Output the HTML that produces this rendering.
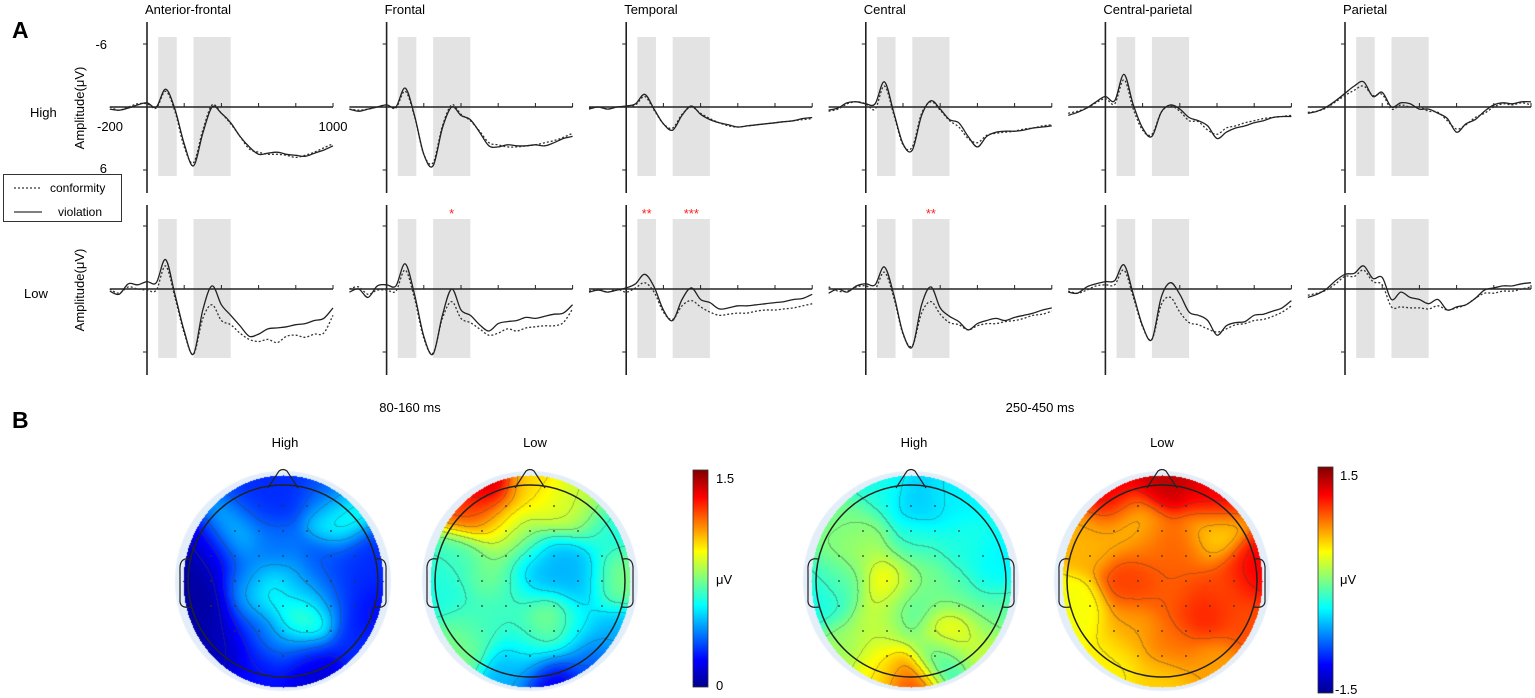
<!DOCTYPE html>
<html><head><meta charset="utf-8">
<style>
html,body{margin:0;padding:0;background:#fff;}
#wrap{position:relative;width:1535px;height:698px;overflow:hidden;font-family:"Liberation Sans",Arial,sans-serif;}
canvas{position:absolute;}
#main{position:absolute;left:0;top:0;}
text{font-family:"Liberation Sans",Arial,sans-serif;}
</style></head>
<body>
<div id="wrap">
<canvas id="topo0" width="220" height="232"></canvas>
<canvas id="topo1" width="220" height="232"></canvas>
<canvas id="topo2" width="220" height="232"></canvas>
<canvas id="topo3" width="220" height="232"></canvas>
<svg id="main" width="1535" height="698" xmlns="http://www.w3.org/2000/svg">
<defs>
<linearGradient id="jet" x1="0" y1="1" x2="0" y2="0">
<stop offset="0" stop-color="#00008f"/><stop offset="0.125" stop-color="#0000ff"/>
<stop offset="0.375" stop-color="#00ffff"/><stop offset="0.625" stop-color="#ffff00"/>
<stop offset="0.875" stop-color="#ff0000"/><stop offset="1" stop-color="#800000"/>
</linearGradient>
</defs>
<text x="12" y="38" font-size="23" font-weight="bold">A</text>
<text x="12" y="428" font-size="23" font-weight="bold">B</text>
<text x="30" y="117" font-size="13">High</text>
<text x="24" y="298" font-size="13">Low</text>
<text transform="translate(84,108) rotate(-90)" font-size="13" text-anchor="middle">Amplitude(μV)</text>
<text transform="translate(84,290) rotate(-90)" font-size="13" text-anchor="middle">Amplitude(μV)</text>
<g>
<rect x="3.5" y="174.5" width="118" height="47" fill="#fff" stroke="#333" stroke-width="1"/>
<line x1="14" y1="188" x2="42" y2="188" stroke="#333" stroke-width="1.3" stroke-dasharray="2,2"/>
<text x="50" y="192" font-size="12">conformity</text>
<line x1="14" y1="212" x2="42" y2="212" stroke="#333" stroke-width="1.3"/>
<text x="58" y="216" font-size="12">violation</text>
</g>
<text x="107" y="49" font-size="13" text-anchor="end">-6</text>
<text x="107" y="173" font-size="13" text-anchor="end">6</text>
<text x="110" y="131" font-size="13" text-anchor="middle">-200</text>
<text x="333" y="131" font-size="13" text-anchor="middle">1000</text>
<text x="160" y="53" font-size="12">N1</text>
<text x="195" y="53" font-size="12">N400</text>
<g id="erp"></g>
<text x="410" y="412" font-size="13" text-anchor="middle">80-160 ms</text>
<text x="1040" y="412" font-size="13" text-anchor="middle">250-450 ms</text>
<text x="285" y="447" font-size="13" text-anchor="middle">High</text>
<text x="535" y="447" font-size="13" text-anchor="middle">Low</text>
<text x="914" y="447" font-size="13" text-anchor="middle">High</text>
<text x="1162" y="447" font-size="13" text-anchor="middle">Low</text>
<g id="heads"></g>
<g>
<rect x="693" y="470" width="15" height="217" fill="url(#jet)" stroke="#333" stroke-width="0.8"/>
<text x="716" y="483" font-size="13">1.5</text>
<text x="716" y="584" font-size="13">μV</text>
<text x="716" y="690" font-size="13">0</text>
</g>
<g>
<rect x="1318" y="467" width="15" height="226" fill="url(#jet)" stroke="#333" stroke-width="0.8"/>
<text x="1340" y="480" font-size="13">1.5</text>
<text x="1340" y="584" font-size="13">μV</text>
<text x="1335" y="694" font-size="13">-1.5</text>
</g>
</svg>
</div>
<script>
// ---------- ERP data (µV, negative up), time -200..1000 step 50 ----------
const times = [-200,-150,-100,-50,0,50,100,150,200,250,300,350,400,450,500,550,600,650,700,750,800,850,900,950,1000];
const regions = ["Anterior-frontal","Frontal","Temporal","Central","Central-parietal","Parietal"];
const afHighViol = [0.2,0.3,0.1,-0.2,-0.4,0,-1.7,0.2,3.5,5.6,2.5,0,0.6,1.5,2.8,3.8,4.5,4.4,4.3,4.5,4.6,4.7,4.4,4.1,3.7];
const afHighConf = [0,0.3,0,-0.3,-0.3,0.1,-1.5,0.4,3.8,5.3,2.2,-0.2,0.6,1.6,2.8,4.0,4.3,4.5,4.5,4.6,4.8,4.6,4.3,3.9,3.5];
const afLowViol = [0.2,0.5,-0.5,-0.4,-0.7,-0.6,-2.8,0.5,4,6.2,2,-0.3,1.5,2.5,3.5,4.5,4.3,3.8,3.7,3.6,3.4,3.3,3,2.8,1.8];
const afLowConf = [0,0.4,-0.2,0,0.1,0.1,-2.2,0.8,4.2,6.2,2.8,1.5,3,3.4,4.2,4.8,5.0,4.8,5.1,4.5,4.4,4.6,4.3,4.2,2.5];
const frHighViol = [0.2,0.4,0.2,0,-0.2,0,-1.8,0.8,4.5,5.6,2,0,0.8,1.2,2.4,3.7,3.8,3.6,3.7,3.7,3.6,3.7,3.4,3.0,2.8];
const frHighConf = [0.2,0.3,0.2,0,-0.2,0.1,-1.5,0.9,4.5,5.3,1.8,-0.2,0.7,1.3,2.3,3.4,3.6,3.8,3.8,3.7,3.6,3.4,3.2,2.9,2.5];
const frLowViol = [0.3,0,0.8,-0.3,-0.4,-0.3,-2.4,0.5,4.5,6.2,2.5,0,2.0,2.5,3.4,4.0,3.3,3.1,3.0,2.7,2.8,2.6,2.4,2.3,1.5];
const frLowConf = [0,-0.2,0.5,0.1,0.1,0.2,-1.8,0.9,4.7,6.1,2.8,1.2,2.8,3.2,3.8,4.4,4.2,3.8,4.0,3.7,3.6,3.5,3.5,3.2,1.9];
const teHighViol = [0.2,0,0.2,0,-0.1,-0.3,-1.2,0.2,1.6,2.2,0.8,-0.1,0.7,1.2,1.5,1.7,1.9,1.8,1.7,1.6,1.5,1.4,1.3,1.1,1.0];
const teHighConf = [0.1,0,0.2,0,0,-0.2,-1.0,0.3,1.6,2.0,0.7,0,0.6,1.1,1.5,1.8,1.9,1.8,1.7,1.6,1.5,1.4,1.3,1.2,1.1];
const teLowViol = [0.3,0.1,0.3,0.1,-0.1,-0.5,-1.4,-0.2,2,3.0,1.0,-0.1,1.0,1.3,1.9,1.8,1.6,1.6,1.5,1.4,1.3,1.2,1.0,0.9,0.5];
const teLowConf = [0.2,0,0.3,0,0.3,-0.1,-0.6,0.3,2.2,2.9,1.6,1.1,1.7,2.2,2.5,2.4,2.3,2.3,2.1,2.0,2.0,1.9,1.8,1.6,1.4];
const ceHighViol = [0.3,0.1,-0.4,-0.5,-0.3,-0.3,-2.4,0.5,3.5,4.1,0.8,-0.6,0.2,1.2,1.5,2.8,3.8,2.8,2.4,2.3,2.3,2.2,2.0,1.9,1.8];
const ceHighConf = [0.4,0.2,-0.3,-0.5,-0.3,0.2,-2.0,0.7,3.6,3.8,0.6,-0.5,0.3,1.3,1.9,3.0,3.4,2.7,2.5,2.4,2.3,2.1,2.0,1.8,1.7];
const ceLowViol = [0.4,0,0.3,-0.3,-0.5,-0.4,-2.1,0.5,4.2,5.5,1.5,-0.2,1.8,2.6,3.1,3.9,3.3,3.0,2.8,3.0,2.7,2.5,2.3,2.0,1.8];
const ceLowConf = [-0.2,0.2,0.2,-0.2,-0.3,0,-1.6,0.8,4.3,5.4,2.3,1.2,2.4,3.2,3.4,3.9,3.5,3.3,3.3,3.1,3.0,2.8,2.5,2.4,2.1];
const cpHighViol = [0.8,0.5,0.1,-0.5,-1.0,-0.6,-3.1,-0.2,2.0,2.8,0.5,-0.2,0.2,1.0,1.3,1.8,3.0,2.4,2.0,1.8,1.5,1.3,1.0,0.9,0.9];
const cpHighConf = [0.6,0.4,0.1,-0.4,-0.8,-0.3,-2.6,0.2,2.2,2.6,0.5,-0.1,0.4,1.3,1.4,2.2,2.6,2.0,1.8,1.5,1.3,1.1,1.0,0.9,0.8];
const cpLowViol = [0.3,0.4,-0.2,-0.5,-0.7,-0.8,-2.3,0.5,3.5,4.8,0.8,-0.6,0.5,2.2,2.5,3.0,4.4,3.5,3.2,3.1,2.5,2.4,2.1,1.8,1.1];
const cpLowConf = [0.2,0.4,0.1,-0.3,-0.4,-0.4,-1.8,0.8,3.6,4.8,1.5,0.8,2.2,3.2,3.4,3.8,4.1,3.8,3.4,3.3,3.0,2.9,2.6,2.2,1.6];
const paHighViol = [0.6,0.4,0,-0.6,-1.3,-2.0,-2.4,-1.0,-1.4,0,-0.4,-0.3,0.2,0.2,0.6,1.1,2.4,1.6,1.2,0.4,-0.2,-0.4,-0.3,-0.5,-0.5];
const paHighConf = [0.5,0.4,0.1,-0.5,-1.1,-1.6,-2.0,-1.1,-1.2,0.2,-0.2,0,0,0.4,0.5,1.3,2.1,1.7,1.0,0.6,0,-0.3,-0.2,-0.4,-0.2];
const paLowViol = [0.8,0.5,0,-0.8,-1.4,-1.5,-2.2,-1.0,-1.1,1.0,0.3,0.8,1.0,1.4,1.0,2.0,1.7,1.5,0.9,0.1,-0.1,-0.3,-0.3,-0.5,-0.6];
const paLowConf = [0.6,0.4,0.1,-0.5,-1.2,-1.2,-1.8,-0.7,-0.4,1.7,1.7,1.8,1.8,1.9,1.6,2.0,1.8,1.5,0.9,0.4,0.4,0.2,0.2,0.0,-0.2];
const highViol = [afHighViol,frHighViol,teHighViol,ceHighViol,cpHighViol,paHighViol];
const highConf = [afHighConf,frHighConf,teHighConf,ceHighConf,cpHighConf,paHighConf];
const lowViol = [afLowViol,frLowViol,teLowViol,ceLowViol,cpLowViol,paLowViol];
const lowConf = [afLowConf,frLowConf,teLowConf,ceLowConf,cpLowConf,paLowConf];
const n1Window = [60,160];
const n400Window = [250,450];
const xTicks = [0,200,400,600,800,1000];
const yTicks = [-6,6];
const starN1 = ["","","**","","",""];
const starN400 = ["","*","***","**","",""];

const NS = "http://www.w3.org/2000/svg";
const erp = document.getElementById('erp');
const axisX0 = 147, colStep = 239.6, pxPerMs = 0.186, pxPerUv = 10.5;
const rows = [{zero:107, top:22, bot:193, shTop:37, shBot:176, viol:highViol, conf:highConf, name:'high'},
              {zero:289, top:205, bot:375, shTop:219, shBot:358, viol:lowViol, conf:lowConf, name:'low'}];
function mk(tag, attrs, parent){const e=document.createElementNS(NS,tag);for(const k in attrs)e.setAttribute(k,attrs[k]);parent.appendChild(e);return e;}
function smoothPath(pts){
  let d = "M"+pts[0][0].toFixed(1)+","+pts[0][1].toFixed(1);
  for(let i=0;i<pts.length-1;i++){
    const p0=pts[Math.max(0,i-1)],p1=pts[i],p2=pts[i+1],p3=pts[Math.min(pts.length-1,i+2)];
    const c1x=p1[0]+(p2[0]-p0[0])/6,c1y=p1[1]+(p2[1]-p0[1])/6;
    const c2x=p2[0]-(p3[0]-p1[0])/6,c2y=p2[1]-(p3[1]-p1[1])/6;
    d+=" C"+c1x.toFixed(1)+","+c1y.toFixed(1)+" "+c2x.toFixed(1)+","+c2y.toFixed(1)+" "+p2[0].toFixed(1)+","+p2[1].toFixed(1);
  }
  return d;
}
regions.forEach((reg, ci) => {
  const ax = axisX0 + ci*colStep;
  const xs = t => ax + t*pxPerMs;
  const t = mk('text',{x:ax-2,y:14,'font-size':13},erp);
  t.textContent = reg;
  
  
  rows.forEach((r, ri) => {
    const ys = v => r.zero + v*pxPerUv;
    const g = mk('g',{},erp);
    
    
    [n1Window, n400Window].forEach((w, wi) => {
      const s = mk('rect',{x:xs(w[0]),y:r.shTop,width:xs(w[1])-xs(w[0]),height:r.shBot-r.shTop,fill:'#e3e3e3'},g);
      
      
    });
    mk('line',{x1:ax,y1:r.top,x2:ax,y2:r.bot,stroke:'#222','stroke-width':1.6},g);
    mk('line',{x1:xs(-200),y1:r.zero,x2:xs(1000),y2:r.zero,stroke:'#222','stroke-width':1.4},g);
    xTicks.forEach(tk => mk('line',{x1:xs(tk),y1:r.zero-4,x2:xs(tk),y2:r.zero,stroke:'#222','stroke-width':1},g));
    yTicks.forEach(v => mk('line',{x1:ax-4,y1:ys(v),x2:ax,y2:ys(v),stroke:'#222','stroke-width':1},g));
    const cp = mk('path',{d:smoothPath(times.map((tt,i)=>[xs(tt),ys(r.conf[ci][i])])),fill:'none',stroke:'#333','stroke-width':1.3,'stroke-dasharray':'2,2'},g);
    
    
    const vp = mk('path',{d:smoothPath(times.map((tt,i)=>[xs(tt),ys(r.viol[ci][i])])),fill:'none',stroke:'#222','stroke-width':1.3},g);
    
    
    if(ri===1){
      [[starN1[ci],n1Window],[starN400[ci],n400Window]].forEach(([s,w])=>{
        if(!s) return;
        const st = mk('text',{x:(xs(w[0])+xs(w[1]))/2,y:r.shTop-1,'font-size':13,fill:'#ff2020','text-anchor':'middle'},g);
        st.textContent = s;
        
        
      });
    }
  });
});

// ---------- Topomaps ----------
const topoCenters = [283,530,911,1162];
const topoCy = 581;
const topoRange = [[0,1.5],[0,1.5],[-1.5,1.5],[-1.5,1.5]];
const map1X = [-0.85,-0.7,-0.6,-0.5,-0.3,0,0.4,0.55,0.8,0.85,0.7,0.3,0.2,-0.2,-0.1,-0.35,-0.18,0.1,0.2,0.35,0.4,0,-0.3,0.6,-0.95,-0.8];
const map1Y = [0.2,-0.3,0.6,-0.45,-0.7,-0.9,-0.85,-0.6,-0.2,0.3,0.6,0.85,0.7,0.85,-0.3,0,0.1,0.05,0.4,0.2,-0.15,0.55,0.4,0.1,-0.1,0.5];
const map1V = [0.05,0.12,0.1,0.55,0.25,0.25,0.3,0.6,0.25,0.2,0.25,0.1,0.2,0.2,0.35,0.3,0.7,0.45,0.85,0.45,0.3,0.4,0.3,0.25,0.05,0.05];
const map2X = [-0.45,-0.6,-0.3,0,0.25,0.5,0.75,0.85,0.85,0.6,0.2,-0.2,-0.7,-0.85,-0.7,-0.4,-0.2,0.05,0.3,0.5,0.2,0.45,-0.5,0,-0.1];
const map2Y = [-0.9,-0.7,-0.55,-0.9,-0.7,-0.7,-0.5,0,0.5,0.75,0.95,0.85,0.6,0.1,-0.2,-0.1,0.2,-0.1,-0.2,0,0.4,0.45,0.4,0.6,-0.4];
const map2V = [1.45,1.2,1.0,1.0,0.9,0.85,0.6,0.75,0.45,0.3,0.15,0.45,0.75,0.6,0.65,0.75,0.65,0.45,0.45,0.45,0.8,0.55,0.65,0.6,0.75];
const map3X = [0.05,-0.3,0.4,-0.6,-0.5,0.5,0.8,0.85,0.7,0.35,0.28,0,-0.3,-0.7,-0.9,-0.7,-0.2,0,0.15,-0.3,0.45,0];
const map3Y = [-0.75,-0.85,-0.8,-0.5,-0.35,-0.3,-0.1,0.3,0.6,0.5,0.72,0.95,0.85,0.6,0.2,0,0,0.25,0,0.4,0.1,-0.35];
const map3V = [-0.55,-0.3,-0.4,-0.05,0.15,-0.3,-0.4,-0.1,0.2,0.55,-0.4,1.0,0.4,0.1,-0.35,-0.1,0.45,-0.2,0,0.2,-0.1,-0.25];
const map4X = [0,-0.5,0.5,-0.3,0.5,0.9,0.85,0.4,0.1,-0.3,-0.85,-0.7,-0.5,0,0.5,0.1,-0.3,0.2,-0.1,0.6];
const map4Y = [-0.95,-0.8,-0.8,-0.55,-0.45,-0.1,0.4,0.3,0.1,0,0.3,-0.4,0.75,0.95,0.8,0.6,0.45,-0.3,-0.35,0.05];
const map4V = [1.3,1.2,1.2,0.5,0.45,1.15,0.9,1.05,0.85,0.95,0.35,0.6,0.4,0.5,0.65,0.8,0.65,0.85,0.8,0.9];
const mapX = [map1X,map2X,map3X,map4X], mapY=[map1Y,map2Y,map3Y,map4Y], mapV=[map1V,map2V,map3V,map4V];
function jet(t){
  t=Math.max(0,Math.min(1,t));
  const c=v=>Math.round(255*Math.max(0,Math.min(1,v)));
  return [c(1.5-Math.abs(4*t-3)),c(1.5-Math.abs(4*t-2)),c(1.5-Math.abs(4*t-1))];
}
const CW=220, CH=232, RX=100, RY=106, SIG=0.17;
for(let m=0;m<4;m++){
  const cv = document.getElementById('topo'+m);
  cv.style.left = (topoCenters[m]-CW/2)+'px';
  cv.style.top = (topoCy-CH/2)+'px';
  const ctx = cv.getContext('2d');
  ctx.fillStyle='#e4eef9';
  ctx.beginPath();ctx.ellipse(CW/2,CH/2,108,110,0,0,Math.PI*2);ctx.fill();
  const img = ctx.getImageData(0,0,CW,CH);
  const [lo,hi]=topoRange[m];
  const vals = new Float32Array(CW*CH).fill(NaN);
  for(let py=0;py<CH;py++)for(let px=0;px<CW;px++){
    const nx=(px-CW/2)/RX, ny=(py-CH/2)/RY;
    if(nx*nx+ny*ny>1) continue;
    let sw=1e-9,sv=0;
    for(let k=0;k<mapV[m].length;k++){
      const dx=nx-mapX[m][k], dy=ny-mapY[m][k];
      const w=Math.exp(-(dx*dx+dy*dy)/(2*SIG*SIG));
      sw+=w; sv+=w*mapV[m][k];
    }
    vals[py*CW+px]=sv/sw;
  }
  const step=(hi-lo)/14;
  for(let py=0;py<CH;py++)for(let px=0;px<CW;px++){
    const v=vals[py*CW+px]; if(isNaN(v)) continue;
    let col = jet((v-lo)/(hi-lo));
    const lv=Math.floor((v-lo)/step);
    const r=vals[py*CW+px+1], b=vals[(py+1)*CW+px];
    if((!isNaN(r)&&Math.floor((r-lo)/step)!==lv)||(!isNaN(b)&&Math.floor((b-lo)/step)!==lv)){
      col=col.map(c=>Math.round(c*0.65+60*0.35));
    }
    const i=(py*CW+px)*4;
    img.data[i]=col[0];img.data[i+1]=col[1];img.data[i+2]=col[2];img.data[i+3]=255;
  }
  ctx.putImageData(img,0,0);
}
// head outlines
const heads = document.getElementById('heads');
topoCenters.forEach((cx,i)=>{
  const g = mk('g',{fill:'none',stroke:'#222','stroke-width':1.5},heads);
  
  
  mk('ellipse',{cx:cx,cy:topoCy,rx:95,ry:96},g);
  mk('path',{d:`M${cx-15},${topoCy-93} L${cx-4},${topoCy-110} Q${cx},${topoCy-113} ${cx+4},${topoCy-110} L${cx+15},${topoCy-93}`,'stroke-width':1.2},g);
  mk('path',{d:`M${cx-93},${topoCy-22} Q${cx-104},${topoCy-24} ${cx-103},${topoCy-10} L${cx-103},${topoCy+18} Q${cx-104},${topoCy+28} ${cx-92},${topoCy+26}`,'stroke-width':1.2},g);
  mk('path',{d:`M${cx+93},${topoCy-22} Q${cx+104},${topoCy-24} ${cx+103},${topoCy-10} L${cx+103},${topoCy+18} Q${cx+104},${topoCy+28} ${cx+92},${topoCy+26}`,'stroke-width':1.2},g);
  for(let gx=-3;gx<=3;gx++)for(let gy=-3;gy<=3;gy++){
    const ex=cx+gx*24, ey=topoCy+gy*25;
    if(((ex-cx)/85)**2+((ey-topoCy)/85)**2>1) continue;
    mk('circle',{cx:ex,cy:ey,r:0.9,fill:'#333',stroke:'none'},g);
  }
});
</script>
</body></html>
